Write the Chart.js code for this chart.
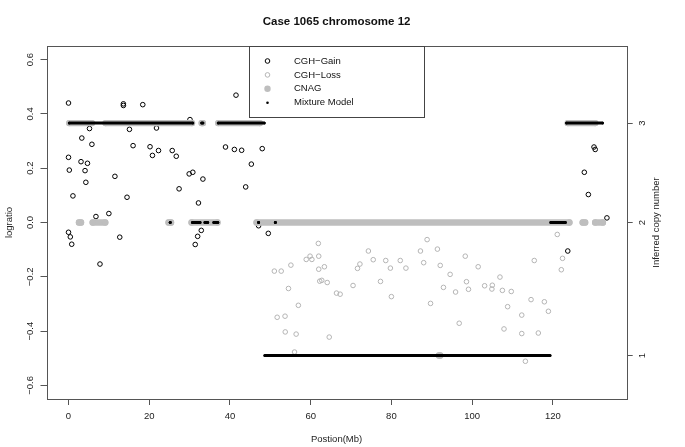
<!DOCTYPE html>
<html>
<head>
<meta charset="utf-8">
<script src="https://cdn.jsdelivr.net/npm/chart.js@4/dist/chart.umd.min.js"></script>
<style>
  body { margin: 0; background: #fff; }
</style>
</head>
<body>
<canvas id="grafico" width="685" height="447"></canvas>
<script>
// CGH probes, position (Mb) and logratio
const gainPos = [0.0, 13.6, 13.6, 18.4, 5.2, 15.1, 21.8, 3.3, 5.8, 16.0, 20.2, 22.3, 20.8, 25.7, 26.7,
  0.0, 3.1, 4.7, 0.2, 4.1, 11.5, 4.3, 27.4, 1.1, 14.5, 6.8, 10.0, 0.0, 0.45, 0.8, 12.7, 7.8,
  41.5, 30.1, 38.9, 41.1, 42.9, 48.0, 45.3, 29.9, 30.8, 33.3, 43.9, 32.2, 32.9, 32.0, 31.4, 49.5, 47.1,
  130.2, 130.5, 127.8, 128.8, 133.4, 123.7];
const gainVal = [0.44, 0.437, 0.431, 0.434, 0.346, 0.343, 0.348, 0.311, 0.288, 0.283, 0.279, 0.265, 0.247, 0.265, 0.244,
  0.240, 0.224, 0.218, 0.193, 0.191, 0.170, 0.148, 0.124, 0.098, 0.093, 0.022, 0.033, -0.036, -0.053, -0.080, -0.054, -0.153,
  0.469, 0.379, 0.278, 0.269, 0.266, 0.272, 0.215, 0.179, 0.185, 0.160, 0.131, 0.072, -0.029, -0.051, -0.081, -0.040, -0.012,
  0.278, 0.269, 0.185, 0.103, 0.017, -0.105];

const lossPos = [61.9, 74.3, 59.85, 60.3, 58.9, 62.0, 55.1, 51.0, 52.7, 62.0, 63.4, 72.2, 71.6, 75.5, 78.6, 82.2, 79.75,
  83.6, 62.25, 62.75, 64.1, 54.5, 70.5, 77.3, 66.4, 67.3, 80.0, 56.95, 51.7, 53.65, 53.7, 56.4, 64.6, 56.0,
  88.85, 87.2, 91.4, 121.1, 98.3, 88.0, 92.1, 101.5, 115.4, 122.4, 122.1, 94.55, 106.9, 92.9, 95.9, 98.6, 99.1,
  103.1, 105.0, 104.9, 107.5, 109.7, 89.7, 108.8, 114.6, 117.9, 118.9, 112.3, 96.8, 107.9, 112.3, 116.4, 113.2];
const lossVal = [-0.077, -0.105, -0.124, -0.136, -0.136, -0.124, -0.157, -0.179, -0.179, -0.172, -0.163, -0.153, -0.169, -0.137, -0.140, -0.140, -0.168,
  -0.168, -0.216, -0.213, -0.221, -0.243, -0.232, -0.217, -0.260, -0.264, -0.273, -0.305, -0.349, -0.345, -0.403, -0.411, -0.422, -0.477,
  -0.063, -0.105, -0.098, -0.044, -0.124, -0.148, -0.158, -0.163, -0.140, -0.132, -0.174, -0.191, -0.201, -0.239, -0.256, -0.218, -0.246,
  -0.233, -0.231, -0.245, -0.250, -0.254, -0.298, -0.310, -0.284, -0.292, -0.327, -0.341, -0.371, -0.392, -0.409, -0.407, -0.511];

// CNAG calls: start, end (Mb) and copy number
const cnagStart = [0.2, 9.2, 33.0, 37.1, 123.7, 2.6, 6.0, 24.8, 30.5, 46.6, 127.4, 130.5, 91.8];
const cnagEnd   = [5.8, 30.6, 33.3, 47.4, 130.5, 3.1, 9.1, 25.4, 36.9, 124.1, 128.0, 132.4, 92.1];
const cnagCopy  = [3, 3, 3, 3, 3, 2, 2, 2, 2, 2, 2, 2, 1];

// mixture model calls
const mixStart = [0.2, 33.0, 37.1, 123.4, 25.2, 30.7, 33.8, 36.0, 47.1, 51.25, 119.5, 48.65];
const mixEnd   = [30.8, 33.3, 48.5, 132.3, 25.2, 32.6, 34.5, 37.0, 47.1, 51.25, 123.1, 119.3];
const mixCopy  = [3, 3, 3, 3, 2, 2, 2, 2, 2, 2, 2, 1];

const xTicks = [0, 20, 40, 60, 80, 100, 120];
const yTicks = [-0.6, -0.4, -0.2, 0, 0.2, 0.4, 0.6];
const copyTicks = [1, 2, 3];
const copyLogratio = [-0.49, 0, 0.366];

function pontos(pos, val) {
  return pos.map((p, i) => ({x: p, y: val[i]}));
}

function segmentos(ini, fim, cn) {
  let pts = [];
  for (let i = 0; i < ini.length; i++) {
    let y = copyLogratio[copyTicks.indexOf(cn[i])];
    pts.push({x: ini[i], y: y}, {x: fim[i], y: y}, {x: fim[i], y: null});
  }
  return pts;
}

Chart.defaults.font.family = '"Liberation Sans", Arial, sans-serif';
Chart.defaults.font.size = 9.5;
Chart.defaults.color = '#222';

const cinza = '#bebebe';

// box round the plot, R style
const caixa = {
  id: 'caixa',
  afterDraw(chart) {
    const a = chart.chartArea;
    const ctx = chart.ctx;
    ctx.save();
    ctx.strokeStyle = '#555';
    ctx.lineWidth = 1;
    ctx.strokeRect(Math.round(a.left) + 0.5, Math.round(a.top) + 0.5,
      Math.round(a.right - a.left), Math.round(a.bottom - a.top));
    ctx.restore();
  }
};

// right axis title, read bottom to top like R's mtext
const tituloDireita = {
  id: 'tituloDireita',
  afterDraw(chart) {
    const a = chart.chartArea;
    const ctx = chart.ctx;
    ctx.save();
    ctx.translate(a.right + 29.5, (a.top + a.bottom) / 2);
    ctx.rotate(-Math.PI / 2);
    ctx.font = '9.5px "Liberation Sans"';
    ctx.fillStyle = '#222';
    ctx.textAlign = 'center';
    ctx.textBaseline = 'middle';
    ctx.fillText('Inferred copy number', 0, 0);
    ctx.restore();
  }
};

// legend("top") inside the plot
const legenda = {
  id: 'legenda',
  afterDraw(chart) {
    const a = chart.chartArea;
    const ctx = chart.ctx;
    const w = 175, h = 71;
    const left = Math.round((a.left + a.right) / 2 - w / 2) + 0.5;
    const top = Math.round(a.top) + 0.5;
    ctx.save();
    ctx.strokeStyle = '#444';
    ctx.lineWidth = 1;
    ctx.strokeRect(left, top, w, h);
    ctx.font = '9.5px "Liberation Sans"';
    ctx.textBaseline = 'middle';
    chart.data.datasets.forEach((ds, i) => {
      const y = top + 14.5 + i * 13.9;
      const sx = left + 18;
      ctx.beginPath();
      ctx.arc(sx, y, ds.legR, 0, 2 * Math.PI);
      if (ds.legFill) {
        ctx.fillStyle = ds.legCor;
        ctx.fill();
      } else {
        ctx.strokeStyle = ds.legCor;
        ctx.lineWidth = 1;
        ctx.stroke();
      }
      ctx.fillStyle = '#111';
      ctx.fillText(ds.label, left + 44.5, y);
    });
    ctx.restore();
  }
};

const ctx = document.getElementById('grafico');

new Chart(ctx, {
  type: 'scatter',
  data: {
    datasets: [
      {
        label: 'CGH\u2212Gain',
        data: pontos(gainPos, gainVal),
        pointRadius: 2.3,
        pointBorderWidth: 1,
        pointBorderColor: '#000',
        pointBackgroundColor: 'rgba(0,0,0,0)',
        order: 4,
        legR: 2.3, legFill: false, legCor: '#000'
      },
      {
        label: 'CGH\u2212Loss',
        data: pontos(lossPos, lossVal),
        pointRadius: 2.3,
        pointBorderWidth: 1,
        pointBorderColor: '#b4b4b4',
        pointBackgroundColor: 'rgba(0,0,0,0)',
        order: 3,
        legR: 2.3, legFill: false, legCor: '#b4b4b4'
      },
      {
        type: 'line',
        label: 'CNAG',
        data: segmentos(cnagStart, cnagEnd, cnagCopy),
        borderColor: cinza,
        borderWidth: 6.4,
        borderCapStyle: 'round',
        pointRadius: 3.2,
        pointBorderWidth: 0,
        pointBackgroundColor: cinza,
        spanGaps: false,
        order: 2,
        legR: 3.2, legFill: true, legCor: cinza
      },
      {
        type: 'line',
        label: 'Mixture Model',
        data: segmentos(mixStart, mixEnd, mixCopy),
        borderColor: '#000',
        borderWidth: 3,
        borderCapStyle: 'round',
        pointRadius: 1.4,
        pointBorderWidth: 0,
        pointBackgroundColor: '#000',
        spanGaps: false,
        order: 1,
        legR: 1.3, legFill: true, legCor: '#000'
      }
    ]
  },
  options: {
    responsive: false,
    animation: false,
    events: [],
    devicePixelRatio: 1,
    layout: { padding: 0 },
    plugins: {
      legend: { display: false },
      tooltip: { enabled: false },
      title: {
        display: true,
        text: 'Case 1065 chromosome 12',
        fullSize: false,
        color: '#111',
        font: { size: 11.5, weight: 'bold' },
        padding: { top: 15, bottom: 17.2 }
      }
    },
    scales: {
      x: {
        type: 'linear',
        position: 'bottom',
        min: -5.45,
        max: 138.3,
        afterBuildTicks: s => { s.ticks = xTicks.map(v => ({value: v})); },
        afterFit: s => { s.height = 48; },
        ticks: { padding: 6, color: '#222', maxRotation: 0, callback: v => String(v) },
        grid: { drawOnChartArea: false, drawTicks: true, tickLength: 6, tickColor: '#555' },
        border: { display: false },
        title: { display: true, text: 'Postion(Mb)', color: '#222', padding: { top: 0, bottom: 2 } }
      },
      y: {
        type: 'linear',
        position: 'left',
        min: -0.65,
        max: 0.65,
        afterBuildTicks: s => { s.ticks = yTicks.map(v => ({value: v})); },
        afterFit: s => { s.width = 46.5; },
        ticks: {
          padding: 0.6,
          minRotation: 90,
          maxRotation: 90,
          crossAlign: 'center',
          color: '#222',
          callback: v => v.toFixed(1).replace('-', '\u2212')
        },
        grid: { drawOnChartArea: false, drawTicks: true, tickLength: 6, tickColor: '#555' },
        border: { display: false },
        title: { display: true, text: 'logratio', color: '#222', padding: { top: 4, bottom: 0 } }
      },
      y2: {
        type: 'linear',
        position: 'right',
        min: -0.65,
        max: 0.65,
        afterBuildTicks: s => { s.ticks = copyLogratio.map(v => ({value: v})); },
        afterFit: s => { s.width = 58.3; },
        ticks: {
          padding: 7.4,
          minRotation: 90,
          maxRotation: 90,
          crossAlign: 'center',
          color: '#222',
          callback: (v, i) => String(copyTicks[i])
        },
        grid: { drawOnChartArea: false, drawTicks: true, tickLength: 6, tickColor: '#555' },
        border: { display: false }
      }
    }
  },
  plugins: [caixa, legenda, tituloDireita]
});
</script>
</body>
</html>
